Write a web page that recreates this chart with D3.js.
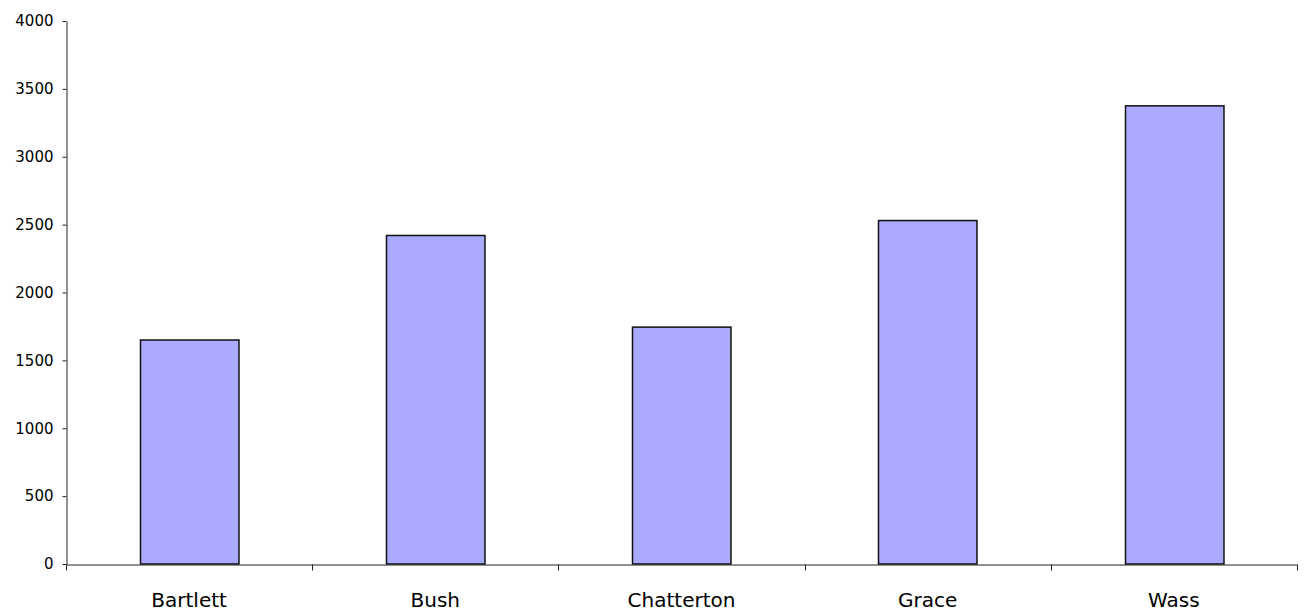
<!DOCTYPE html>
<html>
<head>
<meta charset="utf-8">
<script src="https://cdn.jsdelivr.net/npm/d3@7"></script>
<style>
  body { margin: 0; background: #fff; }
  .chart text { font-family: "DejaVu Sans", Verdana, sans-serif; fill: #000; }
</style>
</head>
<body>
<div class="chart"></div>
<script>
const categories = ["Bartlett", "Bush", "Chatterton", "Grace", "Wass"];
const values = [1650, 2420, 1745, 2530, 3375];
const yTicks = [0, 500, 1000, 1500, 2000, 2500, 3000, 3500, 4000];

const margin = {top: 21, right: 10, bottom: 51, left: 66};
const totalW = 1307, totalH = 615;
const width = totalW - margin.left - margin.right;
const height = totalH - margin.top - margin.bottom;

const data = categories.map((c, i) => ({name: c, value: values[i]}));

const svg = d3.select(".chart").append("svg")
    .attr("width", totalW)
    .attr("height", totalH)
  .append("g")
    .attr("transform", "translate(" + margin.left + "," + margin.top + ")");

// band for ticks / labels (no padding) and one for the bars
const xb = d3.scaleBand().domain(categories).range([0, width]).padding(0);
const x = d3.scaleBand().domain(categories).range([0, width])
    .paddingInner(0.6).paddingOuter(0.3);

const y = d3.scaleLinear().domain([0, 4000]).range([height, 0]);

// y axis
const yAxis = svg.append("g")
    .attr("transform", "translate(0.5,0)")
    .call(d3.axisLeft(y).tickValues(yTicks).tickFormat(d3.format("d"))
        .tickSize(4).tickPadding(9).tickSizeOuter(0));
yAxis.selectAll("text").style("font-size", "15px");
yAxis.selectAll("line, path").attr("stroke", "#222");

// bars
svg.selectAll(".bar")
    .data(data)
  .enter().append("rect")
    .attr("class", "bar")
    .attr("x", d => Math.round(x(d.name)) + 0.5)
    .attr("y", d => y(d.value))
    .attr("width", x.bandwidth())
    .attr("height", d => height - y(d.value))
    .attr("fill", "#aaaaff")
    .attr("stroke", "#111")
    .attr("stroke-width", 1.5);

// x axis (labels centred, ticks on band edges)
const xAxis = svg.append("g")
    .attr("transform", "translate(0," + (height + 0.5) + ")")
    .call(d3.axisBottom(xb).tickSize(0).tickSizeOuter(0));
xAxis.select(".domain").attr("stroke", "#222");
xAxis.selectAll("text")
    .style("font-size", "20px")
    .attr("y", 42)
    .attr("dy", 0);

const edges = categories.map(c => xb(c)).concat([width]);
xAxis.selectAll(".edge")
    .data(edges)
  .enter().append("line")
    .attr("class", "edge")
    .attr("x1", d => Math.round(d) + 0.5)
    .attr("x2", d => Math.round(d) + 0.5)
    .attr("y1", 0)
    .attr("y2", 6)
    .attr("stroke", "#222");
</script>
</body>
</html>
